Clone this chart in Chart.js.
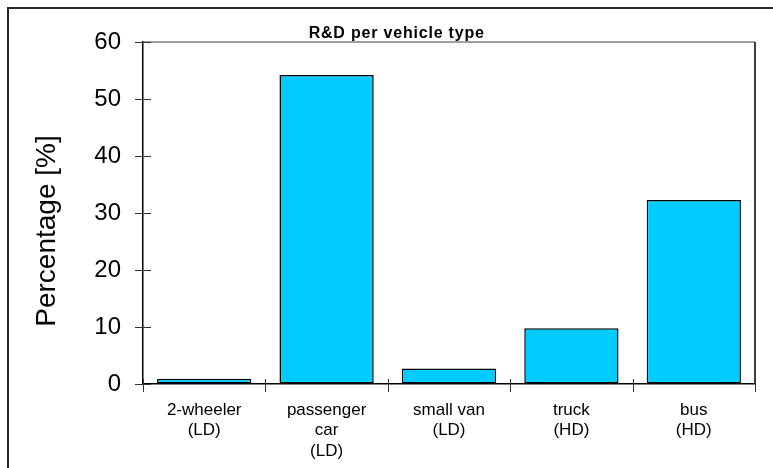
<!DOCTYPE html>
<html>
<head>
<meta charset="utf-8">
<script src="https://cdn.jsdelivr.net/npm/chart.js@4/dist/chart.umd.min.js"></script>
<style>
  html, body { margin: 0; padding: 0; background: #fff; }
  canvas { display: block; }
</style>
</head>
<body>
<canvas id="chart" width="773" height="468"></canvas>
<script>
// R&D share per vehicle type
const categories = [
  ['2-wheeler', '(LD)'],
  ['passenger', 'car', '(LD)'],
  ['small van', '(LD)'],
  ['truck', '(HD)'],
  ['bus', '(HD)']
];
const percentages = [0.9, 54.2, 2.7, 9.8, 32.3];
const yMin = 0;
const yMax = 60;
const yStep = 10;

const chartTitle = 'R&D per vehicle type';
const yTitle = 'Percentage [%]';

const FONT = '"Liberation Sans", Arial, sans-serif';

// Frame, crossing tick marks and the two titles
const decorations = {
  id: 'decorations',
  beforeDraw(chart) {
    const ctx = chart.ctx;
    ctx.save();
    ctx.fillStyle = '#ffffff';
    ctx.fillRect(0, 0, chart.width, chart.height);
    // outer border (left and top edges)
    ctx.strokeStyle = '#2a2a2a';
    ctx.lineWidth = 2;
    ctx.beginPath();
    ctx.moveTo(8, chart.height);
    ctx.lineTo(8, 8);
    ctx.lineTo(chart.width, 8);
    ctx.stroke();
    ctx.restore();
  },
  afterDraw(chart) {
    const ctx = chart.ctx;
    const a = chart.chartArea;
    const xs = chart.scales.x;
    const ys = chart.scales.y;
    ctx.save();

    // plot frame: top (grey) and right (black)
    ctx.lineWidth = 1.5;
    ctx.strokeStyle = '#808080';
    ctx.beginPath();
    ctx.moveTo(a.left, a.top);
    ctx.lineTo(a.right, a.top);
    ctx.stroke();
    ctx.strokeStyle = '#000000';
    ctx.beginPath();
    ctx.moveTo(a.right, a.top);
    ctx.lineTo(a.right, a.bottom);
    ctx.stroke();

    // y tick marks crossing the axis
    ctx.strokeStyle = '#333333';
    ctx.lineWidth = 1;
    for (let v = yMin; v <= yMax; v += yStep) {
      const py = Math.round(ys.getPixelForValue(v)) + 0.5;
      ctx.beginPath();
      ctx.moveTo(a.left - 8, py);
      ctx.lineTo(a.left + 8, py);
      ctx.stroke();
    }
    // x tick marks at category boundaries
    const n = categories.length;
    for (let i = 0; i <= n; i++) {
      let px;
      if (i === 0) px = a.left;
      else if (i === n) px = a.right;
      else px = (xs.getPixelForValue(i - 1) + xs.getPixelForValue(i)) / 2;
      px = Math.round(px) + 0.5;
      ctx.beginPath();
      ctx.moveTo(px, a.bottom - 5);
      ctx.lineTo(px, a.bottom + 8);
      ctx.stroke();
    }

    // chart title
    ctx.fillStyle = '#000000';
    ctx.font = 'bold 16px ' + FONT;
    if ('letterSpacing' in ctx) ctx.letterSpacing = '0.8px';
    ctx.textAlign = 'center';
    ctx.textBaseline = 'alphabetic';
    ctx.fillText(chartTitle, a.left + (a.right - a.left) * 0.4145, a.top - 4);
    if ('letterSpacing' in ctx) ctx.letterSpacing = '0px';

    // y axis title
    ctx.font = '28px ' + FONT;
    ctx.translate(a.left - 96, (a.top + a.bottom) / 2 + 18);
    ctx.rotate(-Math.PI / 2);
    ctx.textAlign = 'center';
    ctx.textBaseline = 'middle';
    ctx.fillText(yTitle, 0, 0);
    ctx.restore();
  }
};

new Chart(document.getElementById('chart'), {
  type: 'bar',
  data: {
    labels: categories,
    datasets: [{
      data: percentages,
      backgroundColor: '#00CCFF',
      borderColor: '#000000',
      borderWidth: 1.5,
      borderSkipped: false,
      categoryPercentage: 1.0,
      barPercentage: 0.77
    }]
  },
  options: {
    responsive: false,
    animation: false,
    devicePixelRatio: 1,
    layout: { padding: { top: 42, right: 18, left: 0, bottom: 0 } },
    plugins: {
      legend: { display: false },
      title: { display: false },
      tooltip: { enabled: false }
    },
    scales: {
      x: {
        offset: true,
        grid: { display: true, drawOnChartArea: false, drawTicks: false, offset: true },
        border: { display: true, color: '#000000', width: 1.5 },
        ticks: {
          color: '#000000',
          font: { family: FONT, size: 17, lineHeight: 1.2 },
          padding: 16,
          maxRotation: 0,
          autoSkip: false
        },
        afterFit(scale) { scale.height = 84; }
      },
      y: {
        min: yMin,
        max: yMax,
        grid: { display: true, drawOnChartArea: false, drawTicks: false },
        border: { display: true, color: '#000000', width: 1.5 },
        ticks: {
          stepSize: yStep,
          color: '#000000',
          font: { family: FONT, size: 24 },
          padding: 22
        },
        afterFit(scale) { scale.width = 143; }
      }
    }
  },
  plugins: [decorations]
});
</script>
</body>
</html>
